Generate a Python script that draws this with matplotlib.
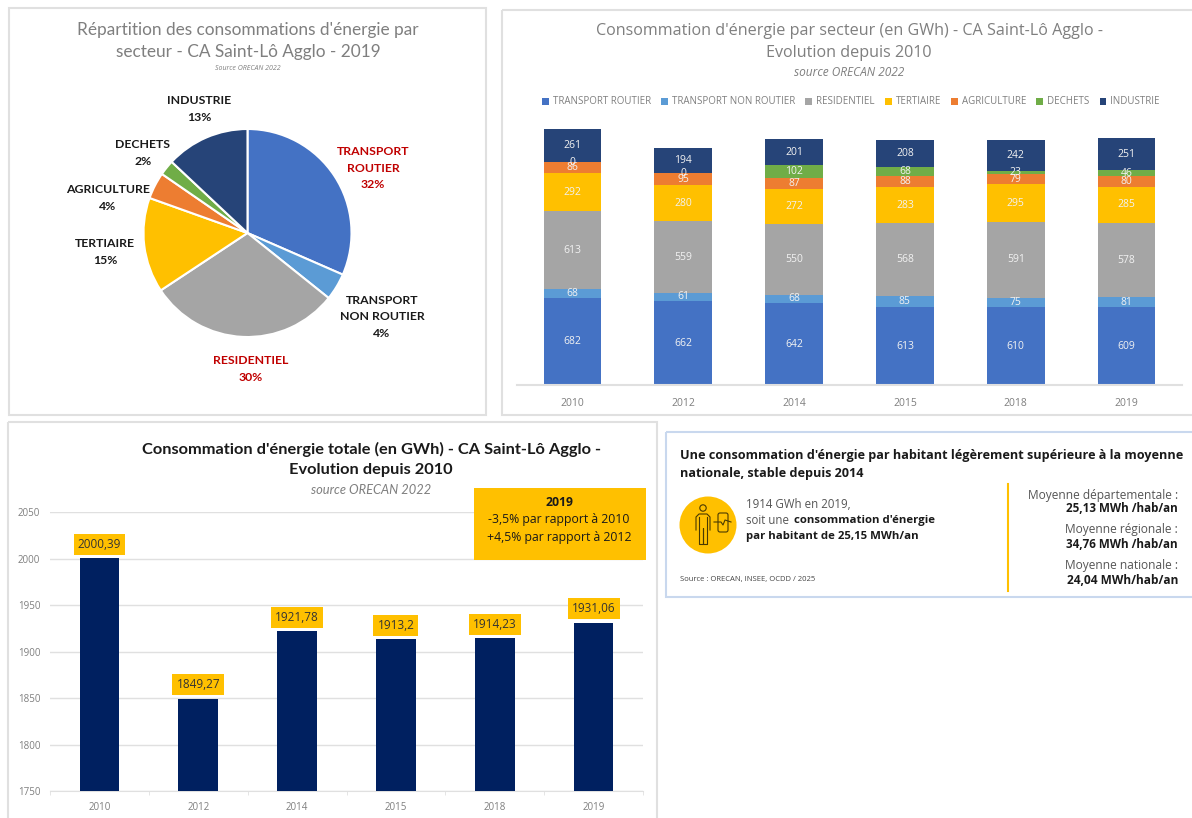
import matplotlib
matplotlib.use('Agg')
import matplotlib.pyplot as plt
from matplotlib.patches import Circle, FancyBboxPatch, Rectangle

W, H = 1192, 818

years = ['2010', '2012', '2014', '2015', '2018', '2019']
sectors = ['TRANSPORT ROUTIER', 'TRANSPORT NON ROUTIER', 'RESIDENTIEL', 'TERTIAIRE',
           'AGRICULTURE', 'DECHETS', 'INDUSTRIE']
sector_colors = ['#4472C4', '#5B9BD5', '#A5A5A5', '#FFC000', '#ED7D31', '#70AD47', '#264478']

transport_routier = [682, 662, 642, 613, 610, 609]
transport_non_routier = [68, 61, 68, 85, 75, 81]
residentiel = [613, 559, 550, 568, 591, 578]
tertiaire = [292, 280, 272, 283, 295, 285]
agriculture = [86, 95, 87, 88, 79, 80]
dechets = [0, 0, 102, 68, 23, 46]
industrie = [261, 194, 201, 208, 242, 251]

pie_names = ['TRANSPORT\nROUTIER', 'TRANSPORT\nNON ROUTIER', 'RESIDENTIEL',
             'TERTIAIRE', 'AGRICULTURE', 'DECHETS', 'INDUSTRIE']
pie_label_colors = ['#C00000', '#1a1a1a', '#C00000', '#1a1a1a', '#1a1a1a', '#1a1a1a', '#1a1a1a']
pie_label_pos = [(373, 168), (382, 317), (251, 369), (105, 252), (108, 198), (143, 153), (199, 109)]

totals = [2000.39, 1849.27, 1921.78, 1913.2, 1914.23, 1931.06]
total_ticks = [1750, 1800, 1850, 1900, 1950, 2000, 2050]

FONT = 'Open Sans'
TITLE_FONT = 'Lato'
GRAY = '#7f7f7f'
GOLD = '#FFC000'
NAVY = '#002060'
LINE = '#e0e0e0'

plt.rcParams['font.family'] = [FONT, 'DejaVu Sans']

fig = plt.figure(figsize=(W / 100, H / 100), dpi=100, facecolor='white')


def px_axes(x0, y0, x1, y1):
    return fig.add_axes([x0 / W, 1 - y1 / H, (x1 - x0) / W, (y1 - y0) / H])


series = [transport_routier, transport_non_routier, residentiel, tertiaire, agriculture, dechets, industrie]

# pie, 2019 breakdown
shares_2019 = [values[-1] for values in series]
ax_pie = px_axes(143.5, 129, 351.5, 337)
ax_pie.pie(shares_2019, colors=sector_colors, startangle=90, counterclock=False, radius=1,
           wedgeprops={'edgecolor': 'white', 'linewidth': 1.5})
ax_pie.set_xlim(-1, 1)
ax_pie.set_ylim(-1, 1)

# stacked bars by sector
ax_stack = px_axes(517, 103.6, 1182, 385.5)
bottom = [0] * len(years)
for name, values, color in zip(sectors, series, sector_colors):
    ax_stack.bar(years, values, width=0.52, bottom=bottom, color=color, label=name)
    for i, v in enumerate(values):
        ax_stack.text(i, bottom[i] + v / 2, str(v), color='#f2f2f2', fontsize=7.5,
                      ha='center', va='center')
    bottom = [b + v for b, v in zip(bottom, values)]
ax_stack.set_xlim(-0.5, 5.5)
ax_stack.set_ylim(0, 2200)
ax_stack.set_yticks([])
for side in ['top', 'left', 'right']:
    ax_stack.spines[side].set_visible(False)
ax_stack.spines['bottom'].set_color(LINE)
ax_stack.spines['bottom'].set_linewidth(1.5)
ax_stack.tick_params(axis='x', length=0, labelsize=7.5, labelcolor=GRAY, pad=9)
ax_stack.legend(loc='center', bbox_to_anchor=(851 / W, 1 - 102 / H), bbox_transform=fig.transFigure,
                ncol=7, frameon=False, fontsize=7, labelcolor=GRAY, handlelength=0.7, handleheight=0.7,
                handletextpad=0.4, columnspacing=1.05, borderpad=0)

# total consumption bars
ax_total = px_axes(50, 512, 643, 791)
ax_total.bar(years, totals, width=0.4, color=NAVY, zorder=3)
for i, v in enumerate(totals):
    ax_total.annotate(str(v).replace('.', ','), (i, v), xytext=(0, 10), textcoords='offset points',
                      ha='center', va='center', fontsize=8.5, color='#333333', zorder=4,
                      bbox={'facecolor': GOLD, 'edgecolor': 'none', 'pad': 3})
ax_total.set_xlim(-0.5, 5.5)
ax_total.set_ylim(1750, 2050)
ax_total.set_yticks(total_ticks)
ax_total.grid(axis='y', color=LINE, linewidth=1, zorder=0)
for side in ['top', 'left', 'right']:
    ax_total.spines[side].set_visible(False)
ax_total.spines['bottom'].set_color(LINE)
ax_total.set_xticks([x + 0.5 for x in range(-1, 6)], minor=True)
ax_total.tick_params(axis='x', which='minor', length=3, color=LINE)
ax_total.tick_params(axis='x', which='major', length=0, labelsize=7, labelcolor=GRAY, pad=8)
ax_total.tick_params(axis='y', length=0, labelsize=7, labelcolor=GRAY, pad=7)

# everything else sits on a pixel-coordinate layer on top
over = fig.add_axes([0, 0, 1, 1], zorder=10)
over.set_xlim(0, W)
over.set_ylim(H, 0)
over.axis('off')


def frame(x0, y0, x1, y1, color=LINE, lw=1.5):
    over.add_patch(Rectangle((x0, y0), x1 - x0, y1 - y0, fill=False, edgecolor=color, linewidth=lw))


frame(9, 8, 486, 415)
frame(502, 10, 1198, 415)
frame(8, 422, 657, 830)
frame(666, 432, 1198, 597, color='#c9d8ee')


def put(x, y, s, size=9, color='#1a1a1a', ha='center', weight='normal', style='normal', family=None):
    over.text(x, y, s, fontsize=size, color=color, ha=ha, va='center', fontweight=weight,
              fontstyle=style, family=family or FONT)


# pie titles and labels
put(248, 30, "Répartition des consommations d'énergie par", 12.4, GRAY, family=TITLE_FONT)
put(248, 52, 'secteur - CA Saint-Lô Agglo - 2019', 12.4, GRAY, family=TITLE_FONT)
put(248, 69, 'Source ORECAN 2022', 5, GRAY, style='italic')
total_2019 = sum(shares_2019)
for name, v, color, (x, y) in zip(pie_names, shares_2019, pie_label_colors, pie_label_pos):
    label = name + '\n' + str(round(100 * v / total_2019)) + '%'
    over.text(x, y, label, fontsize=8.8, color=color, fontweight='bold', ha='center', va='center',
              family=TITLE_FONT, linespacing=1.6)

# stacked chart titles
put(849, 31, "Consommation d'énergie par secteur (en GWh) - CA Saint-Lô Agglo -", 11.6, GRAY)
put(849, 53, 'Evolution depuis 2010', 11.6, GRAY)
put(849, 73, 'source ORECAN 2022', 8.6, GRAY, style='italic')

# total chart titles and callout
put(371, 449, "Consommation d'énergie totale (en GWh) - CA Saint-Lô Agglo -", 11.8, '#1a1a1a',
    weight='bold', family=TITLE_FONT)
put(371, 470, 'Evolution depuis 2010', 11.8, '#1a1a1a', weight='bold', family=TITLE_FONT)
put(371, 490, 'source ORECAN 2022', 9.3, GRAY, style='italic', family=TITLE_FONT)
over.add_patch(Rectangle((474, 488), 172, 72, facecolor=GOLD, edgecolor='none'))
put(559, 502, '2019', 8.8, weight='bold')
put(559, 520, '-3,5% par rapport à 2010', 8.8)
put(559, 538, '+4,5% par rapport à 2012', 8.8)

# per capita panel
put(680, 456, "Une consommation d'énergie par habitant légèrement supérieure à la moyenne", 9.1,
    ha='left', weight='bold')
put(680, 474, 'nationale, stable depuis 2014', 9.1, ha='left', weight='bold')
over.plot([1008, 1008], [484, 591], color=GOLD, linewidth=1.5)

over.add_patch(Circle((708, 525), 28.5, facecolor=GOLD, edgecolor='none'))
ink = {'color': '#4a3a00', 'linewidth': 0.8}
over.add_patch(Circle((703, 508), 3.2, fill=False, edgecolor='#4a3a00', linewidth=0.8))
over.plot([696, 696, 699, 707, 710, 710], [530, 517, 514, 514, 517, 530], **ink)
over.plot([699, 699, 703, 703, 703, 707, 707], [517, 544, 544, 528, 544, 544, 517], **ink)
over.add_patch(FancyBboxPatch((718, 513), 10, 19, boxstyle='round,pad=0,rounding_size=2',
                              fill=False, edgecolor='#4a3a00', linewidth=0.8))
over.plot([714, 721, 723, 725, 731], [522, 522, 525, 520, 522], **ink)

put(746, 505, '1914 GWh en 2019,', 8.3, '#555555', ha='left')
put(746, 521, 'soit une', 8.3, '#555555', ha='left')
put(794, 521, "consommation d'énergie", 8.2, ha='left', weight='bold')
put(746, 536, 'par habitant de 25,15 MWh/an', 8.2, ha='left', weight='bold')
put(680, 580, 'Source : ORECAN, INSEE, OCDD / 2025', 5.5, '#444444', ha='left')

put(1178, 495, 'Moyenne départementale :', 8.6, '#555555', ha='right')
put(1178, 509, '25,13 MWh /hab/an', 8.4, ha='right', weight='bold')
put(1178, 530, 'Moyenne régionale :', 8.6, '#555555', ha='right')
put(1178, 545, '34,76 MWh /hab/an', 8.4, ha='right', weight='bold')
put(1178, 565, 'Moyenne nationale :', 8.6, '#555555', ha='right')
put(1178, 581, '24,04 MWh/hab/an', 8.6, ha='right', weight='bold')

fig.savefig('out.png', dpi=100)
